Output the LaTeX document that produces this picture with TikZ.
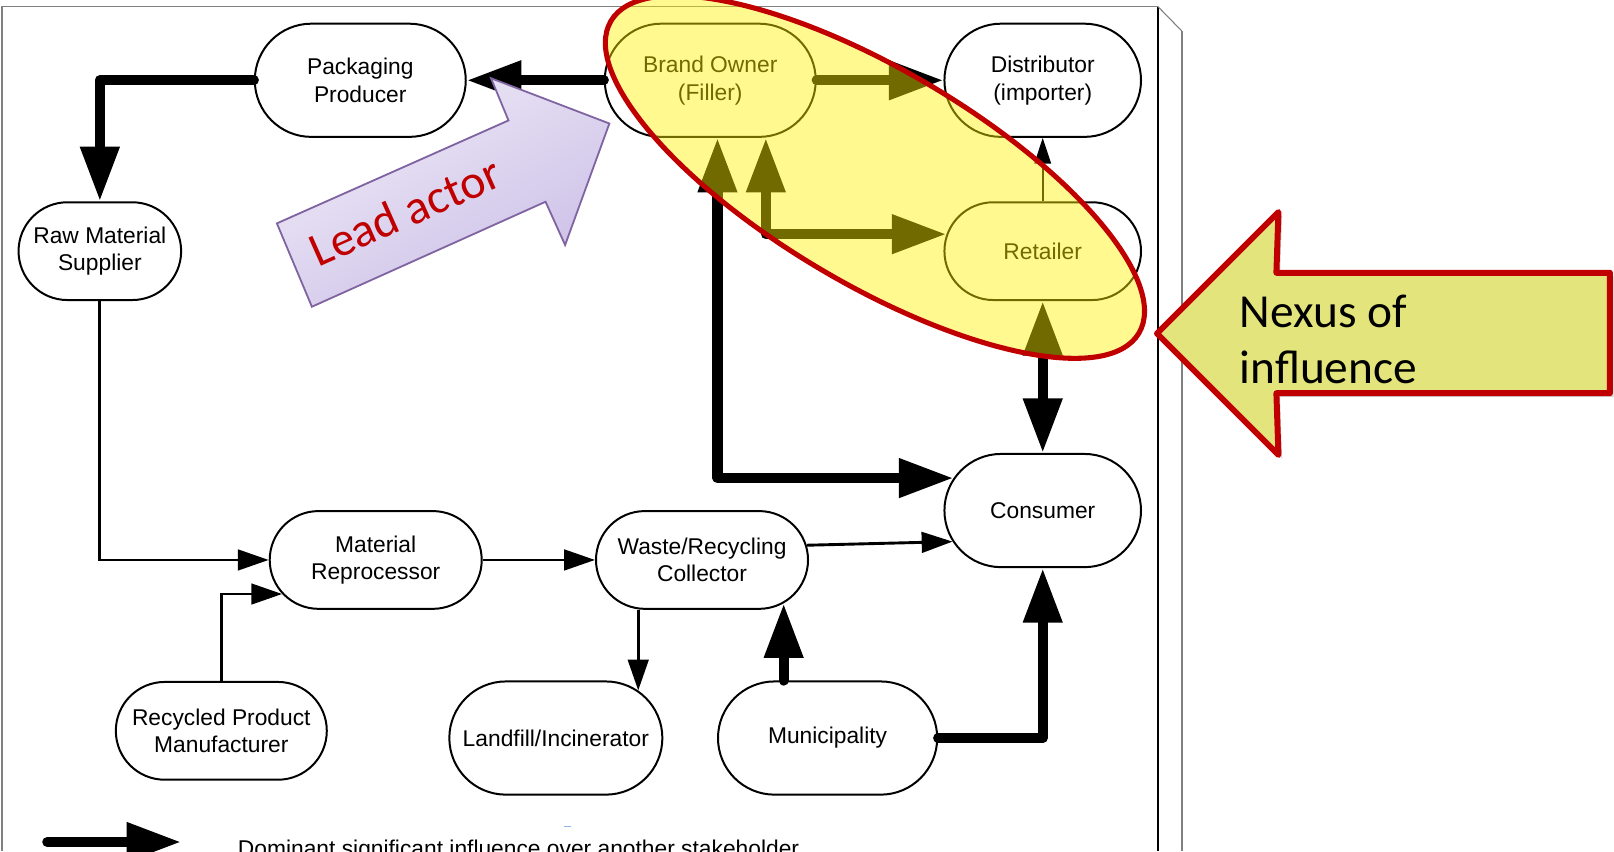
\documentclass[tikz,border=0pt]{standalone}
\usepackage{fontspec}
\setmainfont{Liberation Sans}
\newfontfamily\calibrifont{Carlito}
\usetikzlibrary{arrows.meta,shapes.misc,shadows}

\definecolor{nexusred}{RGB}{192,0,0}
\definecolor{nexusfill}{RGB}{228,228,124}
\definecolor{leadfillA}{RGB}{238,234,247}
\definecolor{leadfillB}{RGB}{204,191,231}
\definecolor{leadedge}{RGB}{128,100,162}
\definecolor{framegray}{RGB}{128,128,128}
\definecolor{cursorblue}{RGB}{141,179,226}

\tikzset{
  bighead/.tip={Triangle[length=1.06cm,width=0.72cm]},
  smallhead/.tip={Triangle[length=0.6cm,width=0.4cm]},
  actor/.style={draw, rounded rectangle, line width=1.1pt, fill=white, inner sep=0pt,
    minimum height=2.2cm, align=center, font=\fontsize{12.6}{15.3}\selectfont},
  lowbox/.style={minimum height=1.9cm},
  dominant/.style={line width=5.7pt, line cap=round, line join=round, -bighead},
  mutual/.style={line width=5.7pt, line cap=round, line join=round, bighead-bighead},
  ordinary/.style={line width=1.6pt, -smallhead},
}

\begin{document}
\begin{tikzpicture}[x=0.02cm,y=-0.02cm]
\useasboundingbox (0,0) rectangle (1568,827);

\draw[framegray, line width=0.8pt] (2,827) -- (2,6.5) -- (1125,6.5);
\draw[line width=0.6pt] (1125,6.5) -- (1125,827);
\draw[framegray, line width=0.6pt] (1125,6.5) -- (1148,30);
\draw[framegray, line width=1.2pt] (1148,30) -- (1148,827);

\node[actor, minimum width=4.1cm] (pack) at (350,78) {Packaging\\Producer};
\node[actor, minimum width=4.1cm] (brand) at (690,78) {Brand Owner\\(Filler)};
\node[actor, minimum width=3.82cm] (dist) at (1013,78) {Distributor\\(importer)};
\node[actor, lowbox, minimum width=3.16cm] (raw) at (97,244) {Raw Material\\Supplier};
\node[actor, lowbox, minimum width=3.82cm] (retail) at (1013,244) {Retailer};
\node[actor, minimum width=3.82cm] (cons) at (1013,496) {Consumer};
\node[actor, lowbox, minimum width=4.12cm] (mat) at (365,544) {Material\\Reprocessor};
\node[actor, lowbox, minimum width=4.12cm] (wrc) at (682,544) {Waste/Recycling\\Collector};
\node[actor, lowbox, minimum width=4.1cm] (rpm) at (215,710) {Recycled Product\\Manufacturer};
\node[actor, minimum width=4.14cm] (land) at (540,717) {Landfill/Incinerator};
\node[actor, minimum width=4.26cm] (muni) at (804,717) {Municipality};

\coordinate (fillerleft) at (697,0);
\coordinate (fillerright) at (744,0);

\draw[dominant] (brand.west) -- (pack.east);
\draw[dominant] (pack.west) -| (raw.north);
\draw[dominant] (brand.east) -- (dist.west);
\draw[mutual] (fillerleft |- brand.south) |- (cons.160);
\draw[mutual] (fillerright |- brand.south) |- (retail.170);
\draw[mutual] (retail.south) -- (cons.north);
\draw[line width=1pt, -{Triangle[length=0.5cm,width=0.32cm]}] (retail.north) -- (dist.south);
\draw[ordinary] (raw.south) |- (mat.west);
\draw[ordinary] (rpm.north) |- (mat.200);
\draw[ordinary] (mat.east) -- (wrc.west);
\draw[ordinary] (wrc.8) -- (cons.199);
\draw[ordinary] (land.30 |- wrc.south) -- (land.30);
\draw[dominant] (wrc.332 |- muni.north) -- (wrc.332);
\draw[dominant] (muni.east) -| (cons.south);

\coordinate (legstart) at (46,818);
\coordinate (legtip) at (176,818);
\draw[dominant] (legstart) -- (legtip);
\node[anchor=base west, font=\fontsize{12.6}{15.3}\selectfont] (legtext) at (225,832) {Dominant significant influence over another stakeholder};
\draw[cursorblue, line width=0.8pt] (548,803) -- (555,803);

\path[draw=leadedge, line width=1pt, top color=leadfillA, bottom color=leadfillB, shading angle=30]
  (269,217) -- (494,117) -- (477,76) -- (592,120) -- (549,238) -- (530,196) -- (303,298) -- cycle;
\node[rotate=24, anchor=base, text=nexusred, font=\calibrifont\fontsize{26.5}{32}\selectfont] (leadlabel) at (400,220) {Lead actor};

\draw[nexusred, line width=2.8pt, fill=yellow, fill opacity=0.44, rotate around={-30.6:(850,172)}]
  (850,172) ellipse [x radius=5.96cm, y radius=2.08cm];

\path[draw=nexusred, line width=3.3pt, line join=round, fill=nexusfill,
  drop shadow={shadow xshift=2pt, shadow yshift=-2pt, opacity=0.35}]
  (1124,324) -- (1242,206) -- (1240,265) -- (1564,265) -- (1564,382) -- (1240,382) -- (1242,442) -- cycle;
\node[anchor=base west, font=\calibrifont\fontsize{26.2}{31}\selectfont] (nexustop) at (1198,318) {Nexus of};
\node[anchor=base west, font=\calibrifont\fontsize{26.2}{31}\selectfont] (nexusbottom) at (1198,373) {influence};
\end{tikzpicture}
\end{document}
